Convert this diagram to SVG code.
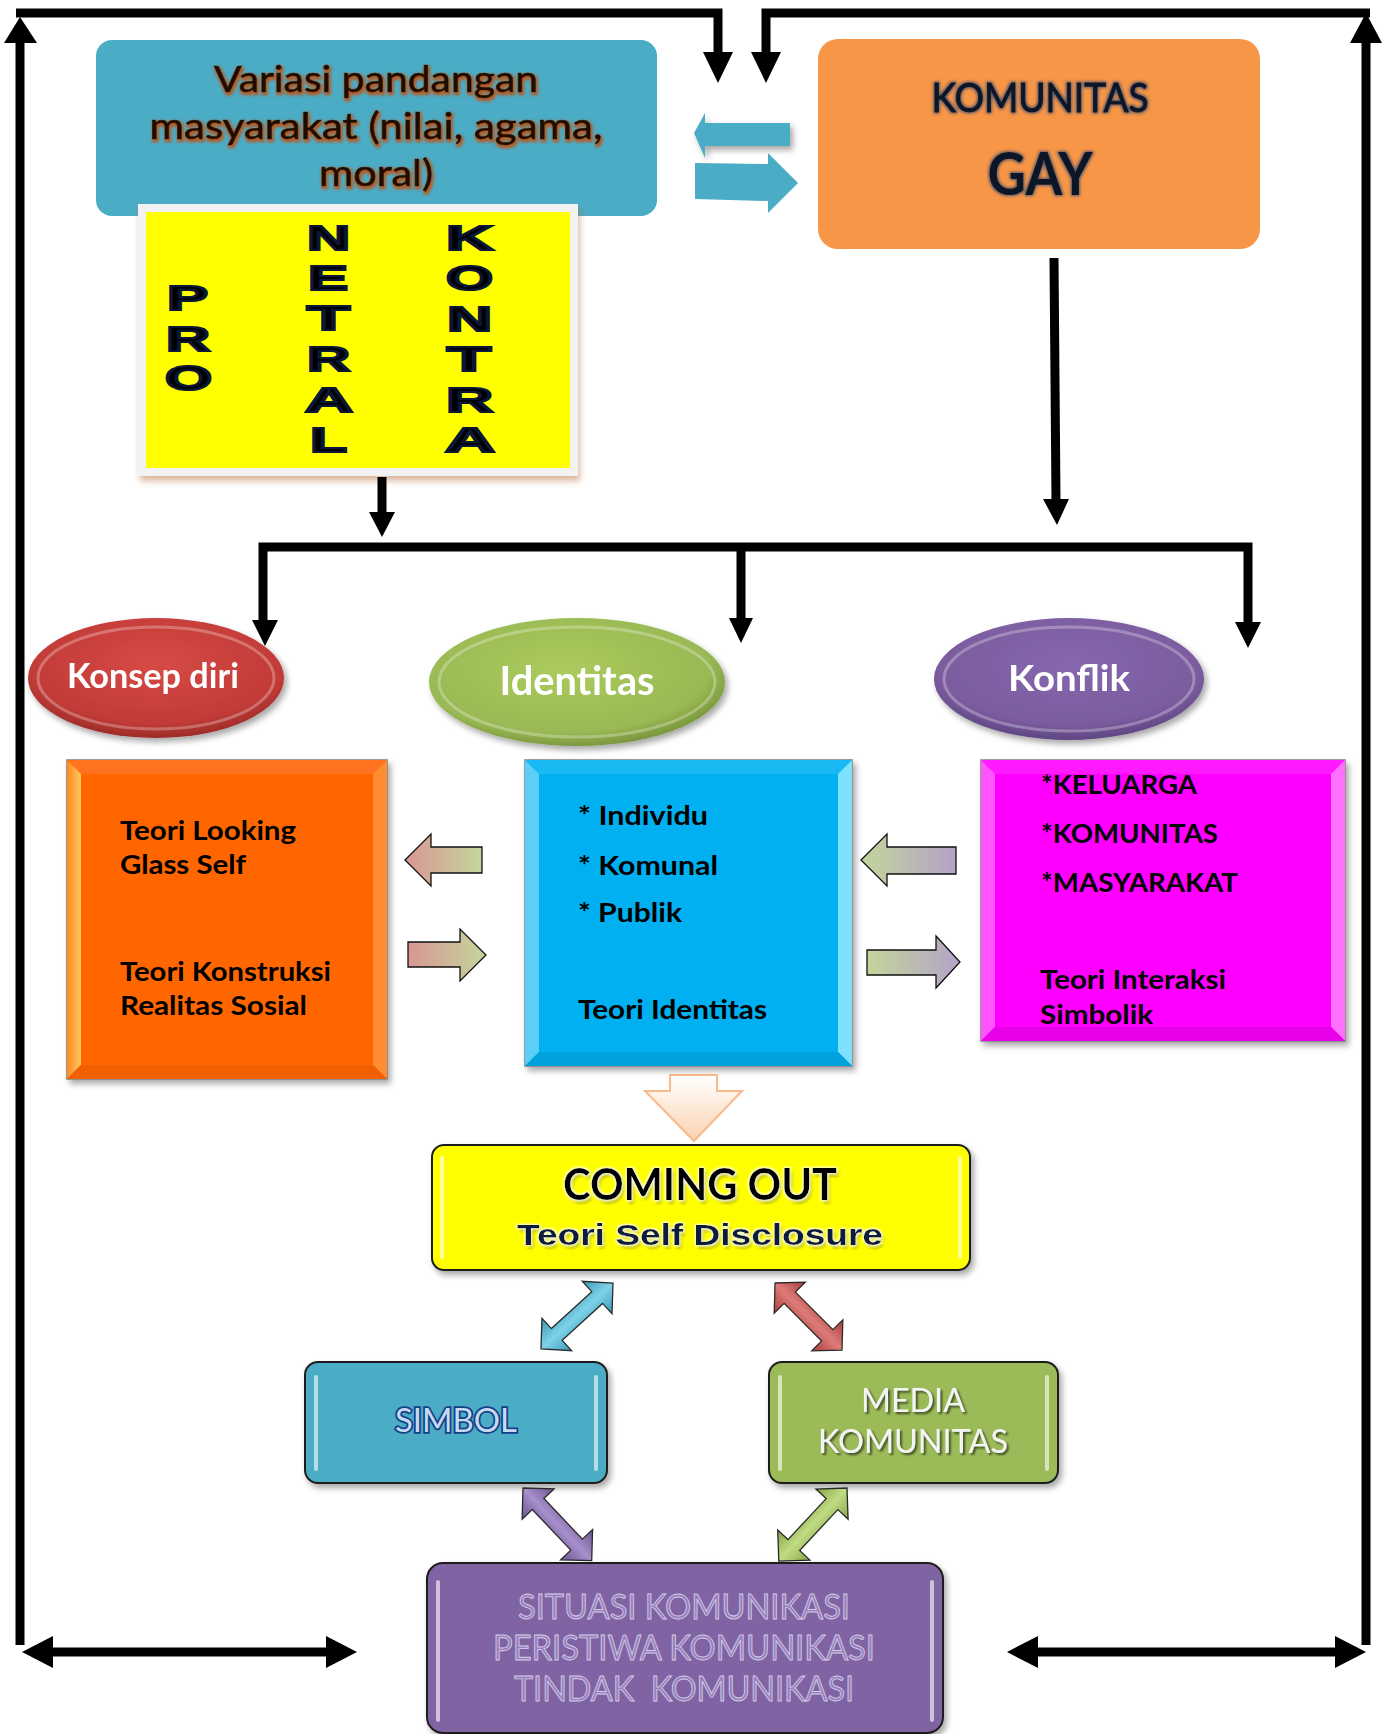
<svg xmlns="http://www.w3.org/2000/svg" width="1391" height="1734" viewBox="0 0 1391 1734">
<defs>
<style>
.conn{fill:none;stroke:#000;stroke-width:9;stroke-linejoin:miter}
.head{fill:#000}
.body{font-family:Lato,"Liberation Sans",sans-serif;font-weight:bold;font-size:26px;fill:#000}
.lbl{font-family:Lato,"Liberation Sans",sans-serif;font-weight:bold;fill:#fff;text-anchor:middle}
.cal{font-family:Lato,"Liberation Sans",sans-serif;text-anchor:middle}
.blk{font-family:"Liberation Sans",Arial,sans-serif;font-weight:bold;font-size:35px;fill:#000;stroke:#0b1736;stroke-width:2.2}
.hl{stroke:#fff;stroke-opacity:.6;stroke-width:4;stroke-linecap:round;fill:none}
.rb{stroke:#1f1f1f;stroke-width:2}
.sm{stroke:#111;stroke-width:1.3}
.dbl{stroke:#2a2a2a;stroke-width:1.3}
.bv{stroke:#7f7f7f;stroke-width:1.5}
.rim{fill:none;stroke:#fff;stroke-opacity:.28;stroke-width:3}
</style>
<filter id="sh" x="-10%" y="-10%" width="125%" height="130%">
<feGaussianBlur in="SourceAlpha" stdDeviation="3"/>
<feOffset dx="3" dy="4"/>
<feComponentTransfer><feFuncA type="linear" slope="0.35"/></feComponentTransfer>
<feMerge><feMergeNode/><feMergeNode in="SourceGraphic"/></feMerge>
</filter>
<filter id="shBrown" x="-10%" y="-10%" width="125%" height="130%">
<feGaussianBlur in="SourceAlpha" stdDeviation="3"/>
<feOffset dx="2" dy="5" result="o"/>
<feFlood flood-color="#b0602a" flood-opacity="0.45"/>
<feComposite in2="o" operator="in"/>
<feMerge><feMergeNode/><feMergeNode in="SourceGraphic"/></feMerge>
</filter>
<filter id="glowBrown" x="-5%" y="-30%" width="110%" height="160%">
<feMorphology in="SourceAlpha" operator="dilate" radius="1.4" result="d"/>
<feGaussianBlur in="d" stdDeviation="1.5" result="b"/>
<feFlood flood-color="#b55a22" flood-opacity="1"/>
<feComposite in2="b" operator="in" result="g"/>
<feOffset in="g" dx="1" dy="1.5" result="go"/>
<feMerge><feMergeNode in="go"/><feMergeNode in="SourceGraphic"/></feMerge>
</filter>
<filter id="glowNavy" x="-5%" y="-30%" width="110%" height="160%">
<feMorphology in="SourceAlpha" operator="dilate" radius="1" result="d"/>
<feGaussianBlur in="d" stdDeviation="1.5" result="b"/>
<feFlood flood-color="#34466e" flood-opacity="0.8"/>
<feComposite in2="b" operator="in" result="g"/>
<feMerge><feMergeNode in="g"/><feMergeNode in="SourceGraphic"/></feMerge>
</filter>
<filter id="glowLight" x="-5%" y="-30%" width="110%" height="160%">
<feGaussianBlur in="SourceAlpha" stdDeviation="1.5" result="b0"/>
<feOffset in="b0" dx="2" dy="2.5" result="s"/>
<feComponentTransfer in="s" result="s2"><feFuncA type="linear" slope="0.45"/></feComponentTransfer>
<feMorphology in="SourceAlpha" operator="dilate" radius="1.3" result="d"/>
<feGaussianBlur in="d" stdDeviation="0.8" result="b"/>
<feFlood flood-color="#ffffff" flood-opacity="0.9"/>
<feComposite in2="b" operator="in" result="g"/>
<feMerge><feMergeNode in="s2"/><feMergeNode in="g"/><feMergeNode in="SourceGraphic"/></feMerge>
</filter>
<filter id="shText" x="-5%" y="-30%" width="110%" height="160%">
<feGaussianBlur in="SourceAlpha" stdDeviation="1.2"/>
<feOffset dx="1.5" dy="2"/>
<feComponentTransfer><feFuncA type="linear" slope="0.6"/></feComponentTransfer>
<feMerge><feMergeNode/><feMergeNode in="SourceGraphic"/></feMerge>
</filter>
<radialGradient id="gRed" cx="50%" cy="38%" r="62%"><stop offset="0" stop-color="#d64a46"/><stop offset="0.8" stop-color="#c23b37"/><stop offset="1" stop-color="#9c2b28"/></radialGradient>
<radialGradient id="gGreen" cx="45%" cy="40%" r="62%"><stop offset="0" stop-color="#abcb5c"/><stop offset="0.8" stop-color="#98b954"/><stop offset="1" stop-color="#76933a"/></radialGradient>
<radialGradient id="gPurple" cx="50%" cy="38%" r="62%"><stop offset="0" stop-color="#8667ad"/><stop offset="0.8" stop-color="#7a5c9e"/><stop offset="1" stop-color="#5e4682"/></radialGradient>
<linearGradient id="gPG" x1="0" y1="0" x2="1" y2="0"><stop offset="0" stop-color="#d99694"/><stop offset="1" stop-color="#c3d69b"/></linearGradient>
<linearGradient id="gGP" x1="0" y1="0" x2="1" y2="0"><stop offset="0" stop-color="#c3d69b"/><stop offset="1" stop-color="#b3a2c7"/></linearGradient>
<linearGradient id="gPeach" x1="0" y1="0" x2="0" y2="1"><stop offset="0" stop-color="#ffffff"/><stop offset="1" stop-color="#fbd2b0"/></linearGradient>
<linearGradient id="gTeal" x1="0" y1="0" x2="0" y2="1"><stop offset="0" stop-color="#3a9ab6"/><stop offset="0.5" stop-color="#7ed2e8"/><stop offset="1" stop-color="#3a9ab6"/></linearGradient>
<linearGradient id="gRed2" x1="0" y1="0" x2="0" y2="1"><stop offset="0" stop-color="#a83c39"/><stop offset="0.5" stop-color="#de7c79"/><stop offset="1" stop-color="#a83c39"/></linearGradient>
<linearGradient id="gPur2" x1="0" y1="0" x2="0" y2="1"><stop offset="0" stop-color="#6d5290"/><stop offset="0.5" stop-color="#a890cc"/><stop offset="1" stop-color="#6d5290"/></linearGradient>
<linearGradient id="gGrn2" x1="0" y1="0" x2="0" y2="1"><stop offset="0" stop-color="#86a545"/><stop offset="0.5" stop-color="#c0dc84"/><stop offset="1" stop-color="#86a545"/></linearGradient>
<linearGradient id="gLeftO" x1="0" y1="0" x2="1" y2="0"><stop offset="0" stop-color="#ff8a20"/><stop offset="1" stop-color="#ffc860"/></linearGradient>
<polygon id="dbl" points="0,0 22,-22 22,-8 78,-8 78,-22 100,0 78,22 78,8 22,8 22,22"/>
</defs>
<rect width="1391" height="1734" fill="#fff"/>

<g id="n-variasi">
<rect x="96" y="40" width="561" height="176" rx="16" fill="#4bacc6"/>
<g class="cal" font-size="37" fill="#1c0c02" stroke="#1c0c02" stroke-width="0.7" filter="url(#glowBrown)">
<text x="376" y="92" textLength="324" lengthAdjust="spacingAndGlyphs">Variasi pandangan</text>
<text x="376" y="139" textLength="453" lengthAdjust="spacingAndGlyphs">masyarakat (nilai, agama,</text>
<text x="376" y="186" textLength="114" lengthAdjust="spacingAndGlyphs">moral)</text>
</g>
</g>

<g id="n-sikap">
<rect x="138" y="204" width="440" height="272" fill="#f2f2f2" filter="url(#shBrown)"/>
<rect x="146" y="212" width="424" height="256" fill="#ffff00"/>
<g class="blk">
<text x="167" y="310" textLength="41" lengthAdjust="spacingAndGlyphs">P</text>
<text x="166" y="351" textLength="44" lengthAdjust="spacingAndGlyphs">R</text>
<text x="165" y="390" textLength="47" lengthAdjust="spacingAndGlyphs">O</text>
<text x="307" y="250" textLength="43" lengthAdjust="spacingAndGlyphs">N</text>
<text x="308" y="290" textLength="40" lengthAdjust="spacingAndGlyphs">E</text>
<text x="307" y="330" textLength="43" lengthAdjust="spacingAndGlyphs">T</text>
<text x="307" y="371" textLength="43" lengthAdjust="spacingAndGlyphs">R</text>
<text x="305" y="412" textLength="48" lengthAdjust="spacingAndGlyphs">A</text>
<text x="310" y="452" textLength="37" lengthAdjust="spacingAndGlyphs">L</text>
<text x="446" y="250" textLength="47" lengthAdjust="spacingAndGlyphs">K</text>
<text x="446" y="290" textLength="47" lengthAdjust="spacingAndGlyphs">O</text>
<text x="447" y="331" textLength="45" lengthAdjust="spacingAndGlyphs">N</text>
<text x="447" y="371" textLength="44" lengthAdjust="spacingAndGlyphs">T</text>
<text x="446" y="412" textLength="47" lengthAdjust="spacingAndGlyphs">R</text>
<text x="445" y="452" textLength="50" lengthAdjust="spacingAndGlyphs">A</text>
</g>
</g>

<g id="n-komunitas">
<rect x="818" y="39" width="442" height="210" rx="20" fill="#f79646"/>
<g class="cal" fill="#0b1626" filter="url(#glowNavy)">
<text x="1040" y="112" font-size="40" textLength="217" lengthAdjust="spacingAndGlyphs" stroke="#0b1626" stroke-width="0.9">KOMUNITAS</text>
<text x="1040" y="195" font-size="60" font-weight="bold" textLength="105" lengthAdjust="spacingAndGlyphs">GAY</text>
</g>
</g>

<g id="n-konsep" filter="url(#sh)">
<ellipse cx="156" cy="678" rx="128" ry="60" fill="url(#gRed)"/>
<ellipse class="rim" cx="156" cy="678" rx="118" ry="51"/>
<text class="lbl" x="153" y="688" font-size="34" textLength="172" lengthAdjust="spacingAndGlyphs">Konsep diri</text>
</g>
<g id="n-identitas" filter="url(#sh)">
<ellipse cx="577" cy="682" rx="148" ry="64" fill="url(#gGreen)"/>
<ellipse class="rim" cx="577" cy="682" rx="138" ry="55"/>
<text class="lbl" x="577" y="695" font-size="40" textLength="155" lengthAdjust="spacingAndGlyphs">Identitas</text>
</g>
<g id="n-konflik" filter="url(#sh)">
<ellipse cx="1069" cy="679" rx="135" ry="61" fill="url(#gPurple)"/>
<ellipse class="rim" cx="1069" cy="679" rx="125" ry="52"/>
<text class="lbl" x="1069" y="691" font-size="36" textLength="122" lengthAdjust="spacingAndGlyphs">Konflik</text>
</g>

<g id="n-teori-konsep">
<rect class="bv" x="67" y="760" width="320" height="319" fill="#ff6600" filter="url(#sh)"/>
<polygon points="67,760 387,760 373,774 81,774" fill="#ff7220"/>
<polygon points="67,760 81,774 81,1065 67,1079" fill="url(#gLeftO)"/>
<polygon points="387,760 387,1079 373,1065 373,774" fill="#ff8c30"/>
<polygon points="67,1079 387,1079 373,1065 81,1065" fill="#f05f00"/>
<g class="body">
<text x="120" y="840" textLength="176" lengthAdjust="spacingAndGlyphs">Teori Looking</text>
<text x="120" y="874" textLength="126" lengthAdjust="spacingAndGlyphs">Glass Self</text>
<text x="120" y="981" textLength="211" lengthAdjust="spacingAndGlyphs">Teori Konstruksi</text>
<text x="120" y="1015" textLength="187" lengthAdjust="spacingAndGlyphs">Realitas Sosial</text>
</g>
</g>

<g id="n-teori-identitas">
<rect class="bv" x="525" y="760" width="327" height="306" fill="#00b0f0" filter="url(#sh)"/>
<polygon points="525,760 852,760 838,774 539,774" fill="#1ab9f3"/>
<polygon points="525,760 539,774 539,1052 525,1066" fill="#5ccff8"/>
<polygon points="852,760 852,1066 838,1052 838,774" fill="#7de0fd"/>
<polygon points="525,1066 852,1066 838,1052 539,1052" fill="#00a2de"/>
<g class="body">
<text x="578" y="825" textLength="130" lengthAdjust="spacingAndGlyphs">* Individu</text>
<text x="578" y="875" textLength="140" lengthAdjust="spacingAndGlyphs">* Komunal</text>
<text x="578" y="922" textLength="104" lengthAdjust="spacingAndGlyphs">* Publik</text>
<text x="578" y="1019" textLength="189" lengthAdjust="spacingAndGlyphs">Teori Identitas</text>
</g>
</g>

<g id="n-teori-konflik">
<rect class="bv" x="981" y="760" width="364" height="281" fill="#ff00ff" filter="url(#sh)"/>
<polygon points="981,760 1345,760 1331,774 995,774" fill="#ff1aff"/>
<polygon points="981,760 995,774 995,1027 981,1041" fill="#ff55ff"/>
<polygon points="1345,760 1345,1041 1331,1027 1331,774" fill="#ff70ff"/>
<polygon points="981,1041 1345,1041 1331,1027 995,1027" fill="#e800e8"/>
<g class="body">
<text x="1041" y="794" textLength="156" lengthAdjust="spacingAndGlyphs">*KELUARGA</text>
<text x="1041" y="843" textLength="177" lengthAdjust="spacingAndGlyphs">*KOMUNITAS</text>
<text x="1041" y="892" textLength="197" lengthAdjust="spacingAndGlyphs">*MASYARAKAT</text>
<text x="1040" y="989" textLength="186" lengthAdjust="spacingAndGlyphs">Teori Interaksi</text>
<text x="1040" y="1024" textLength="113" lengthAdjust="spacingAndGlyphs">Simbolik</text>
</g>
</g>

<g id="n-coming-out">
<rect class="rb" x="432" y="1145" width="538" height="125" rx="12" fill="#ffff00" filter="url(#sh)"/>
<line class="hl" x1="442" y1="1158" x2="442" y2="1257"/>
<line class="hl" x1="960" y1="1158" x2="960" y2="1257"/>
<text class="cal" x="700" y="1200" font-size="44" font-weight="bold" fill="#000" textLength="274" lengthAdjust="spacingAndGlyphs" filter="url(#glowLight)">COMING OUT</text>
<text x="700" y="1245" font-family="'Liberation Sans',Arial,sans-serif" font-weight="bold" font-size="30" text-anchor="middle" fill="#0f1d3a" textLength="366" lengthAdjust="spacingAndGlyphs" filter="url(#glowLight)">Teori Self Disclosure</text>
</g>

<g id="n-simbol">
<rect class="rb" x="305" y="1362" width="302" height="121" rx="13" fill="#4bacc6" filter="url(#sh)"/>
<line class="hl" x1="316" y1="1377" x2="316" y2="1469"/>
<line class="hl" x1="596" y1="1377" x2="596" y2="1469"/>
<text class="cal" x="456" y="1432" font-size="33" fill="#c4daf2" stroke="#153f86" stroke-width="3.6" paint-order="stroke" textLength="122" lengthAdjust="spacingAndGlyphs">SIMBOL</text>
</g>

<g id="n-media">
<rect class="rb" x="769" y="1362" width="289" height="121" rx="13" fill="#9bbb59" filter="url(#sh)"/>
<line class="hl" x1="780" y1="1377" x2="780" y2="1469"/>
<line class="hl" x1="1047" y1="1377" x2="1047" y2="1469"/>
<g class="cal" font-size="33" fill="#f4f4f4" filter="url(#shText)">
<text x="913" y="1412" textLength="104" lengthAdjust="spacingAndGlyphs">MEDIA</text>
<text x="913" y="1453" textLength="190" lengthAdjust="spacingAndGlyphs">KOMUNITAS</text>
</g>
</g>

<g id="n-situasi">
<rect class="rb" x="427" y="1563" width="516" height="170" rx="16" fill="#8064a2" filter="url(#sh)"/>
<line class="hl" x1="438" y1="1582" x2="438" y2="1720"/>
<line class="hl" x1="932" y1="1582" x2="932" y2="1720"/>
<g class="cal" font-size="34" fill="#9580ba" stroke="#d6cbea" stroke-width="0.9">
<text x="684" y="1619" textLength="332" lengthAdjust="spacingAndGlyphs">SITUASI KOMUNIKASI</text>
<text x="684" y="1660" textLength="382" lengthAdjust="spacingAndGlyphs">PERISTIWA KOMUNIKASI</text>
<text x="684" y="1701" textLength="340" lengthAdjust="spacingAndGlyphs" xml:space="preserve">TINDAK  KOMUNIKASI</text>
</g>
</g>

<g id="connectors">
<path class="conn" d="M20,1645 V40"/>
<polygon class="head" points="4,43 37,43 20,17"/>
<path class="conn" d="M16,13 H718 V55"/>
<polygon class="head" points="703,52 733,52 718,83"/>
<path class="conn" d="M766,55 V13 H1370"/>
<polygon class="head" points="751,52 781,52 766,83"/>
<path class="conn" d="M1366,1645 V40"/>
<polygon class="head" points="1350,43 1382,43 1366,13"/>
<path class="conn" d="M382,477 V515"/>
<polygon class="head" points="369,512 395,512 382,537"/>
<path class="conn" d="M1054,258 L1056,502"/>
<polygon class="head" points="1043,499 1069,499 1057,525"/>
<path class="conn" d="M263,620 V547 H1248 V624"/>
<polygon class="head" points="252,620 278,620 265,646"/>
<path class="conn" d="M741,547 V620"/>
<polygon class="head" points="729,618 753,618 741,643"/>
<polygon class="head" points="1235,622 1261,622 1248,648"/>
<path class="conn" d="M48,1652 H330" stroke-width="10"/>
<polygon class="head" points="22,1652 53,1636 53,1668"/>
<polygon class="head" points="357,1652 326,1636 326,1668"/>
<path class="conn" d="M1034,1652 H1340" stroke-width="10"/>
<polygon class="head" points="1007,1652 1038,1636 1038,1668"/>
<polygon class="head" points="1366,1652 1335,1636 1335,1668"/>

<polygon points="694,133 705,113 705,123 790,123 790,146 705,146 705,158" fill="#4bacc6" filter="url(#sh)"/>
<polygon points="695,163 768,164 768,153 798,183 768,213 768,201 695,199" fill="#4bacc6"/>

<polygon class="sm" points="405,860 431,834 431,847 482,847 482,873 431,873 431,886" fill="url(#gPG)"/>
<polygon class="sm" points="408,942 460,942 460,929 486,955 460,981 460,967 408,967" fill="url(#gPG)"/>
<polygon class="sm" points="861,860 887,834 887,847 956,847 956,874 887,874 887,886" fill="url(#gGP)"/>
<polygon class="sm" points="867,950 936,950 936,936 960,962 936,988 936,975 867,975" fill="url(#gGP)"/>

<polygon points="670,1075 717,1075 717,1091 742,1091 694,1141 645,1091 670,1091" fill="url(#gPeach)" stroke="#f9b98a" stroke-width="2"/>

<use href="#dbl" class="dbl" fill="url(#gTeal)" transform="translate(613,1283) rotate(137.5) scale(0.977,1)"/>
<use href="#dbl" class="dbl" fill="url(#gRed2)" transform="translate(775,1283) rotate(45) scale(0.948,1)"/>
<use href="#dbl" class="dbl" fill="url(#gPur2)" transform="translate(523,1488) rotate(46.6) scale(1.0,1)"/>
<use href="#dbl" class="dbl" fill="url(#gGrn2)" transform="translate(847,1488) rotate(133) scale(1.0,1)"/>
</g>
</svg>
